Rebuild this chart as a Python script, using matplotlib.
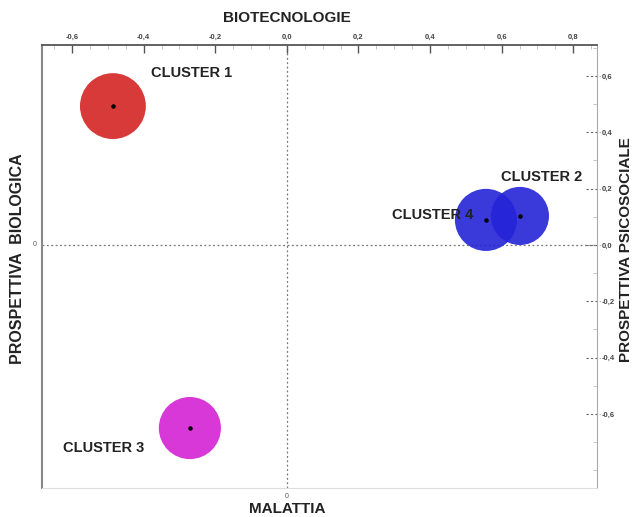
import numpy as np
import matplotlib
matplotlib.use('Agg')
import matplotlib.pyplot as plt
import matplotlib.transforms as mtransforms

plt.rcParams['font.family'] = ['Liberation Sans', 'DejaVu Sans']

# cluster centroids (x = biotecnologie/malattia, y = biologica/psicosociale)
clusters = ['CLUSTER 1', 'CLUSTER 2', 'CLUSTER 3', 'CLUSTER 4']
cx = [-0.486, 0.651, -0.271, 0.556]
cy = [0.493, 0.103, -0.650, 0.089]
sizes = [2250, 1750, 2000, 2000]
colors = ['#d83a3a', '#2424d8', '#d838d8', '#2424d8']

xticks = [-0.6, -0.4, -0.2, 0.0, 0.2, 0.4, 0.6, 0.8]
yticks = [-0.6, -0.4, -0.2, 0.0, 0.2, 0.4, 0.6]

fig = plt.figure(figsize=(6.32, 5.17), dpi=100)
ax = fig.add_axes([0.0665, 0.056, 0.878, 0.857])
ax.set_xlim(-0.684, 0.866)
ax.set_ylim(-0.863, 0.71)

# dotted origin lines
ax.axvline(0, color='#777777', lw=0.9, ls=(0, (1.5, 2)), zorder=1)
ax.axhline(0, color='#777777', lw=0.9, ls=(0, (1.5, 2)), zorder=1)

# order so that cluster 4 sits under cluster 2
order = [0, 2, 3, 1]
for i in order:
    ax.scatter(cx[i], cy[i], s=sizes[i], color=colors[i], alpha=0.9 if i in (1, 3) else 1.0,
               edgecolors='none', zorder=2)
    ax.scatter(cx[i], cy[i], s=5, color='black', zorder=3)

labels_pos = {
    'CLUSTER 1': (-0.38, 0.61, 'left'),
    'CLUSTER 2': (0.824, 0.24, 'right'),
    'CLUSTER 4': (0.293, 0.105, 'left'),
    'CLUSTER 3': (-0.625, -0.72, 'left'),
}
for name in clusters:
    lx, ly, ha = labels_pos[name]
    ax.text(lx, ly, name, fontsize=10.5, fontweight='bold', ha=ha, va='center',
            color='#222222', zorder=4)

# spines
ax.spines['bottom'].set_color('#dddddd')
ax.spines['left'].set_color('#888888')
ax.spines['left'].set_linewidth(1.5)
ax.spines['top'].set_color('#555555')
ax.spines['top'].set_linewidth(1.3)
ax.spines['right'].set_color('#aaaaaa')

# ticks: top and right only
ax.xaxis.tick_top()
ax.yaxis.tick_right()
ax.set_xticks(xticks)
ax.set_xticklabels([f'{v:.1f}'.replace('.', ',') for v in xticks])
ax.set_yticks(yticks)
ax.set_yticklabels([f'{v:.1f}'.replace('.', ',') for v in yticks])
ax.set_xticks(np.arange(-0.65, 0.86, 0.05), minor=True)
ax.set_yticks(np.arange(-0.8, 0.71, 0.1), minor=True)
ax.tick_params(axis='x', which='major', direction='in', length=6, width=1,
               color='#555555', labelsize=5.5, labelcolor='#444444', pad=3)
ax.tick_params(axis='x', which='minor', direction='in', length=3, width=0.6,
               color='#bbbbbb')
ax.tick_params(axis='y', which='major', direction='in', length=0,
               labelsize=5.5, labelcolor='#444444', pad=3.5)
ax.tick_params(axis='y', which='minor', direction='in', length=3, width=0.6,
               color='#bbbbbb')
for lab in ax.get_xticklabels() + ax.get_yticklabels():
    lab.set_fontweight('bold')

# dashed major ticks on the right axis
trans = mtransforms.blended_transform_factory(ax.transAxes, ax.transData)
for v in yticks:
    ax.plot([0.98, 1.006], [v, v], transform=trans, color='#666666', lw=0.8,
            ls=(0, (2, 2)), clip_on=False, zorder=1)

# small zero markers
ax.text(-0.01, 0, '0', transform=trans, fontsize=5, ha='right', va='center',
        color='#555555')
trans2 = mtransforms.blended_transform_factory(ax.transData, ax.transAxes)
ax.text(0, -0.012, '0', transform=trans2, fontsize=5, ha='center', va='top',
        color='#555555')

# axis titles
fig.text(0.454, 0.966, 'BIOTECNOLOGIE', fontsize=11, fontweight='bold',
         ha='center', va='center', color='#222222')
fig.text(0.454, 0.016, 'MALATTIA', fontsize=11, fontweight='bold',
         ha='center', va='center', color='#222222')
fig.text(0.028, 0.50, 'PROSPETTIVA  BIOLOGICA', fontsize=11.5, fontweight='bold',
         rotation=90, ha='center', va='center', color='#222222')
fig.text(0.991, 0.517, 'PROSPETTIVA PSICOSOCIALE', fontsize=11, fontweight='bold',
         rotation=90, ha='center', va='center', color='#222222')

fig.savefig('out.png', dpi=100)
